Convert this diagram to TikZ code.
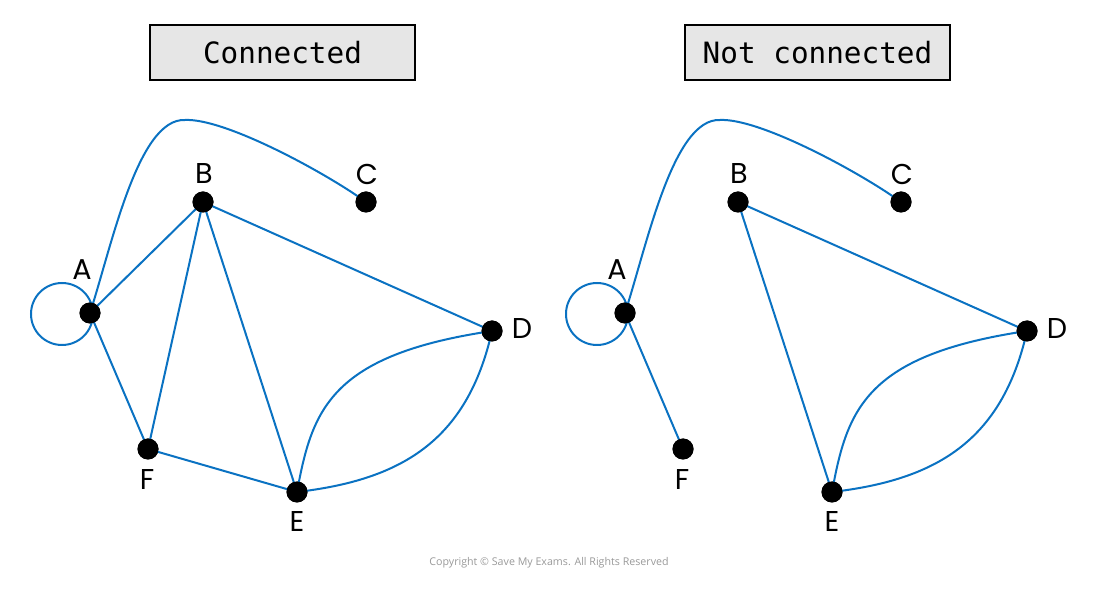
\documentclass[tikz,border=0pt]{standalone}
\usepackage{fontspec}
\setmainfont{Poppins}
\newfontfamily\titlefont{DejaVu Sans Mono}
\newfontfamily\copyfont{Open Sans}
\definecolor{edgeblue}{HTML}{0A72C2}
\definecolor{boxgray}{HTML}{E6E6E6}
\begin{document}
\begin{tikzpicture}[x=0.75pt,y=-0.75pt,
  vtx/.style={circle,fill=black,inner sep=0pt,minimum size=15.75pt},
  lbl/.style={font=\fontsize{21.5}{21.5}\selectfont,inner sep=0pt},
  edge/.style={draw=edgeblue,line width=1.5pt},
  titlebox/.style={draw=black,fill=boxgray,line width=0.8pt,minimum width=198.75pt,minimum height=41.25pt,inner sep=0pt,font=\titlefont\fontsize{22}{22}\selectfont}]
\useasboundingbox (0,0) rectangle (1100,591);
% titles
\node[titlebox] (t1) at (282.5,52.5) {Connected};
\node[titlebox] (t2) at (817.5,52.5) {Not connected};
% ---------- left graph ----------
\coordinate (lpk) at (185,120);
\node[vtx] (A) at (90,313) {};
\node[vtx] (B) at (203,202) {};
\node[vtx] (C) at (366,202) {};
\node[vtx] (D) at (492,331) {};
\node[vtx] (E) at (297,492) {};
\node[vtx] (F) at (148,449) {};
\node[lbl] (lA) at (82,270) {A};
\node[lbl] (lB) at (204,174) {B};
\node[lbl] (lC) at (367,174) {C};
\node[lbl] (lD) at (522,329) {D};
\node[lbl] (lE) at (297,521) {E};
\node[lbl] (lF) at (147,480) {F};
\draw[edge] (62,314) circle[radius=31];
\draw[edge] (A.center) .. controls (112,245) and (138,118) .. (lpk)
  .. controls (225,118) and (326,173) .. (C.center);
\draw[edge] (A.center) -- (B.center);
\draw[edge] (A.center) -- (F.center);
\draw[edge] (B.center) -- (F.center);
\draw[edge] (B.center) -- (E.center);
\draw[edge] (B.center) -- (D.center);
\draw[edge] (F.center) -- (E.center);
\draw[edge] (E.center) .. controls (312,410) and (330,355) .. (D.center);
\draw[edge] (E.center) .. controls (400,480) and (467,442) .. (D.center);
\foreach \n in {A,B,C,D,E,F} \fill (\n.center) circle[radius=10.5];
% ---------- right graph ----------
\coordinate (rpk) at (720,120);
\node[vtx] (A2) at (625,313) {};
\node[vtx] (B2) at (738,202) {};
\node[vtx] (C2) at (901,202) {};
\node[vtx] (D2) at (1027,331) {};
\node[vtx] (E2) at (832,492) {};
\node[vtx] (F2) at (683,449) {};
\node[lbl] (lA2) at (617,270) {A};
\node[lbl] (lB2) at (739,174) {B};
\node[lbl] (lC2) at (902,174) {C};
\node[lbl] (lD2) at (1057,329) {D};
\node[lbl] (lE2) at (832,521) {E};
\node[lbl] (lF2) at (682,480) {F};
\draw[edge] (597,314) circle[radius=31];
\draw[edge] (A2.center) .. controls (647,245) and (673,118) .. (rpk)
  .. controls (760,118) and (861,173) .. (C2.center);
\draw[edge] (A2.center) -- (F2.center);
\draw[edge] (B2.center) -- (E2.center);
\draw[edge] (B2.center) -- (D2.center);
\draw[edge] (E2.center) .. controls (847,410) and (865,355) .. (D2.center);
\draw[edge] (E2.center) .. controls (935,480) and (1002,442) .. (D2.center);
\foreach \n in {A2,B2,C2,D2,E2,F2} \fill (\n.center) circle[radius=10.5];
% copyright
\node[font=\copyfont\fontsize{8}{8}\selectfont,text=black!40,inner sep=0pt] (cp) at (549,563) {Copyright © Save My Exams. All Rights Reserved};
\end{tikzpicture}
\end{document}
